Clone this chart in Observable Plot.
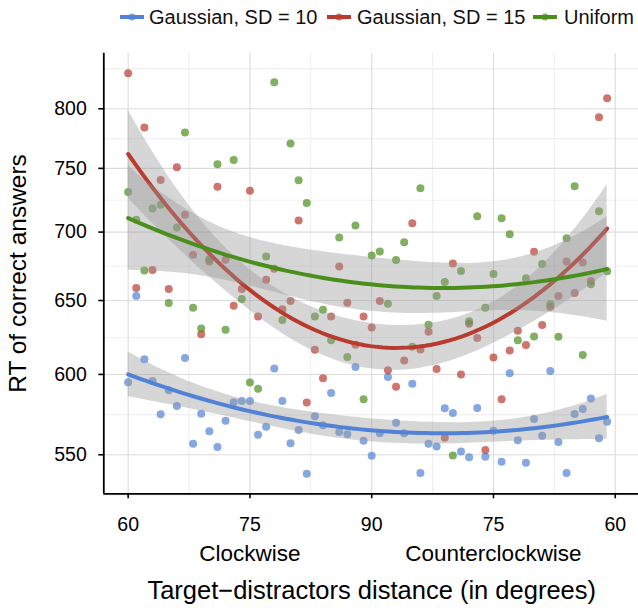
<!DOCTYPE html>
<html><head><meta charset="utf-8">
<script src="https://cdn.jsdelivr.net/npm/d3@7"></script>
<script src="https://cdn.jsdelivr.net/npm/@observablehq/plot@0.6"></script>
<style>
body{margin:0;background:#fff;font-family:"Liberation Sans",Arial,Helvetica,sans-serif;}
#legend{position:relative;width:638px;height:34px;}
.key{position:absolute;top:0;}
.lab{position:absolute;top:0;line-height:34px;font-size:20px;color:#111;white-space:nowrap;}
</style></head><body>
<div id="legend"></div>
<div id="chart"></div>
<script>
// ---- data ----
const distance = [60,61,62,63,64,65,66,67,68,69,70,71,72,73,74,75,76,77,78,79,80,81,82,83,84,85,86,87,88,89,
  90,91,92,93,94,95,96,97,98,99,100,101,102,103,104,105,106,107,108,109,110,111,112,113,114,115,116,117,118,119];
const seriesNames = ["Gaussian, SD = 10", "Gaussian, SD = 15", "Uniform"];
const rtSD10 = [595.0,653.2,610.0,595.8,574.7,589.8,579.9,610.7,556.6,575.0,564.2,554.6,570.7,582.2,583.0,583.0,562.1,567.0,603.8,583.0,
  556.9,565.0,538.8,573.4,567.8,588.1,563.7,562.3,604.8,558.4,549.4,562.9,598.4,569.4,562.9,593.9,539.2,556.6,555.0,578.4,
  575.5,552.0,548.5,578.6,548.8,564.5,545.8,600.8,558.7,545.2,571.7,561.5,602.3,557.6,539.3,574.9,578.0,584.5,559.9,570.1];
const rtSD15 = [831.4,658.9,784.0,671.9,740.6,658.2,750.9,713.3,683.0,626.6,678.0,735.3,679.3,646.4,658.2,732.1,638.9,664.7,672.7,643.8,
  649.7,708.9,582.0,616.2,597.6,638.9,674.4,648.5,619.6,638.9,631.3,649.7,602.8,592.0,609.1,706.8,616.4,628.4,603.6,560.3,
  676.6,599.9,633.9,624.1,552.8,611.1,584.1,615.8,629.1,619.4,685.2,633.0,645.7,653.2,678.0,655.4,677.3,663.8,792.8,809.1];
const rtUniform = [731.0,709.4,671.4,718.2,721.1,648.3,703.5,779.8,645.0,630.6,679.7,753.4,629.8,756.9,651.1,594.7,590.7,681.7,823.3,636.4,
  770.5,740.4,722.4,638.9,643.6,622.7,695.9,611.4,705.1,584.1,682.5,685.4,647.8,679.1,692.4,618.2,734.0,633.2,653.2,663.2,
  549.6,671.1,635.5,712.2,645.0,669.0,710.5,698.4,622.7,665.8,625.2,676.3,647.3,625.0,695.4,735.6,612.7,661.5,715.9,670.9];
const xTicks = [60, 75, 90, 105, 120];
const xTickLabels = ["60", "75", "90", "75", "60"];
const yTicks = [550, 600, 650, 700, 750, 800];
const directionLabels = [{x: 75, label: "Clockwise"}, {x: 105, label: "Counterclockwise"}];
const xTitle = "Target\u2212distractors distance (in degrees)";
const yTitle = "RT of correct answers";

// ---- styles ----
const lineColors = ["#5182d6", "#b93b30", "#4a8f1c"];
const font = '"Liberation Sans", Arial, Helvetica, sans-serif';

// ---- quadratic least-squares fit on log10 scale with 95% CI ----
function inv3(m){
  const [a,b,c]=m[0],[d,e,f]=m[1],[g,h,i]=m[2];
  const A=e*i-f*h, B=-(d*i-f*g), C=d*h-e*g;
  const det=a*A+b*B+c*C;
  return [[A/det,-(b*i-c*h)/det,(b*f-c*e)/det],[B/det,(a*i-c*g)/det,-(a*f-c*d)/det],[C/det,-(a*h-b*g)/det,(a*e-b*d)/det]];
}
function qt975(df){
  const z=1.959964;
  const g1=(z**3+z)/4, g2=(5*z**5+16*z**3+3*z)/96, g3=(3*z**7+19*z**5+17*z**3-15*z)/384;
  return z+g1/df+g2/df**2+g3/df**3;
}
function quadFit(xs, raw){
  const ys = raw.map(v=>Math.log10(v));
  const n = xs.length, xm = d3.mean(xs);
  const basis = x => {const u=x-xm; return [1,u,u*u];};
  const S=[[0,0,0],[0,0,0],[0,0,0]], r=[0,0,0];
  xs.forEach((x,j)=>{const b=basis(x); for(let a=0;a<3;a++){r[a]+=b[a]*ys[j]; for(let c=0;c<3;c++)S[a][c]+=b[a]*b[c];}});
  const I = inv3(S);
  const beta = I.map(row=>row[0]*r[0]+row[1]*r[1]+row[2]*r[2]);
  const pred = x => {const b=basis(x); return beta[0]*b[0]+beta[1]*b[1]+beta[2]*b[2];};
  const rss = d3.sum(xs,(x,j)=>(ys[j]-pred(x))**2);
  const df = n-3, sigma = Math.sqrt(rss/df), t = qt975(df);
  const lo=d3.min(xs), hi=d3.max(xs), N=80, out=[];
  for(let k=0;k<N;k++){
    const x0=lo+(hi-lo)*k/(N-1), b=basis(x0);
    let v=0; for(let a=0;a<3;a++)for(let c=0;c<3;c++) v+=b[a]*I[a][c]*b[c];
    const f=pred(x0), se=sigma*Math.sqrt(v);
    out.push({x:x0, y:10**f, lo:10**(f-t*se), hi:10**(f+t*se)});
  }
  return out;
}

const allSeries = [rtSD10, rtSD15, rtUniform];
const points = allSeries.map(vals => vals.map((v,j)=>({x:distance[j], y:v})));
const fits = allSeries.map(vals => quadFit(distance, vals));

// y domain: data range expanded 5% in log space
const allVals = allSeries.flat();
const lmin = Math.log10(d3.min(allVals)), lmax = Math.log10(d3.max(allVals)), lr = lmax-lmin;
const yDomain = [10**(lmin-0.05*lr), 10**(lmax+0.05*lr)];

// minor breaks (log midpoints)
const lt = yTicks.map(Math.log10);
const bd = lt[1]-lt[0];
const ext = [lt[0]-bd, ...lt, lt[lt.length-1]+bd];
const yMinor = d3.range(ext.length-1).map(i=>10**((ext[i]+ext[i+1])/2));
const xMinor = d3.range(xTicks.length-1).map(i=>(xTicks[i]+xTicks[i+1])/2);

const marks = [
  Plot.gridX(xMinor, {stroke:"#f0f0f0", strokeOpacity:1, strokeWidth:1.1}),
  Plot.gridY(yMinor, {stroke:"#f0f0f0", strokeOpacity:1, strokeWidth:1.1}),
  Plot.gridX(xTicks, {stroke:"#dcdcdc", strokeOpacity:1, strokeWidth:1.1}),
  Plot.gridY(yTicks, {stroke:"#dcdcdc", strokeOpacity:1, strokeWidth:1.1}),
];
points.forEach((p,i)=>marks.push(Plot.dot(p,{x:"x", y:"y", r:4, fill:lineColors[i], fillOpacity:0.7, stroke:null})));
fits.forEach((f,i)=>{
  marks.push(Plot.areaY(f,{x:"x", y1:"lo", y2:"hi", fill:"#999999", fillOpacity:0.4}));
  marks.push(Plot.line(f,{x:"x", y:"y", stroke:lineColors[i], strokeWidth:4}));
});
marks.push(
  Plot.ruleX([57], {stroke:"#000", strokeWidth:1.8}),
  Plot.ruleY([yDomain[0]], {stroke:"#000", strokeWidth:1.8}),
  Plot.axisX({ticks:xTicks, tickFormat:d=>xTickLabels[xTicks.indexOf(d)], tickSize:5, tickPadding:18.7, fontSize:19.5, strokeWidth:1.6, label:null}),
  Plot.axisY({ticks:yTicks, tickFormat:d=>String(d), tickSize:5, tickPadding:12, fontSize:19.5, strokeWidth:1.6, label:null}),
  Plot.text(directionLabels, {x:"x", text:"label", frameAnchor:"bottom", dy:59.7, fontSize:22.5, lineAnchor:"middle", fill:"#000"}),
  Plot.text([xTitle], {text:d=>d, frameAnchor:"bottom", dy:97.5, fontSize:25.5, lineAnchor:"middle", textAnchor:"middle", fill:"#000"}),
  Plot.text([yTitle], {text:d=>d, frameAnchor:"left", dx:-85.3, rotate:-90, fontSize:24.5, lineAnchor:"middle", textAnchor:"middle", fill:"#000"})
);

const chart = Plot.plot({
  width:638, height:576,
  marginLeft:103.3, marginRight:-1.1, marginTop:18.7, marginBottom:116.7,
  x:{type:"linear", domain:[57,123]},
  y:{type:"log", domain:yDomain},
  style:{fontFamily:font, color:"#000", background:"#fff"},
  marks
});
document.getElementById("chart").appendChild(chart);

// legend
const legend = document.getElementById("legend");
const keyX = [120, 326.5, 533];
const labX = [149, 357, 564];
seriesNames.forEach((name,i)=>{
  const k = document.createElementNS("http://www.w3.org/2000/svg","svg");
  k.setAttribute("class","key"); k.setAttribute("width","24"); k.setAttribute("height","34");
  k.style.left = keyX[i]+"px";
  k.innerHTML = `<line x1="0" x2="24" y1="17" y2="17" stroke="${lineColors[i]}" stroke-width="4"/>`+
    `<circle cx="12" cy="17" r="3.5" fill="${lineColors[i]}" fill-opacity="0.7"/>`;
  legend.appendChild(k);
  const s = document.createElement("div");
  s.className="lab"; s.style.left=labX[i]+"px"; s.textContent=name;
  legend.appendChild(s);
});
</script>
</body></html>
